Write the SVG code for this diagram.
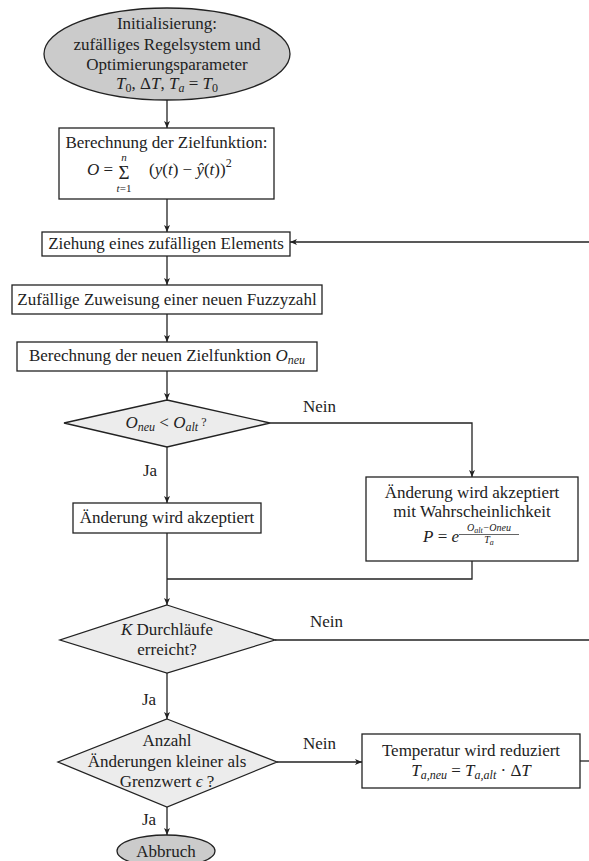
<svg xmlns="http://www.w3.org/2000/svg" width="589" height="861" viewBox="0 0 589 861">
<style>
.t{font-family:"Liberation Serif","Times New Roman",serif;font-size:17px;fill:#222}
.i{font-style:italic}
.s{font-size:12px}
.xs{font-size:10px}
.lbl{font-family:"Liberation Serif","Times New Roman",serif;font-size:17px;fill:#222}
.box{fill:#fff;stroke:#222;stroke-width:1.3}
.dec{fill:#ececec;stroke:#222;stroke-width:1.3}
.term{fill:#cbcbcb;stroke:#222;stroke-width:1.3}
.c{fill:none;stroke:#222;stroke-width:1.3}
</style>
<defs>
<marker id="ah" markerUnits="userSpaceOnUse" markerWidth="8" markerHeight="6" refX="7" refY="3" orient="auto">
<path d="M0,0 L7,3 L0,6 L1.8,3 z" fill="#222"/>
</marker>
</defs>
<rect width="589" height="861" fill="#fff"/>

<g id="init">
<ellipse class="term" cx="167" cy="54" rx="123" ry="46"/>
<text class="t" x="167" y="29" text-anchor="middle">Initialisierung:</text>
<text class="t" x="167" y="50" text-anchor="middle">zufälliges Regelsystem und</text>
<text class="t" x="167" y="70" text-anchor="middle">Optimierungsparameter</text>
<text class="t" x="167" y="89" text-anchor="middle"><tspan class="i">T</tspan><tspan class="s" dy="3">0</tspan><tspan dy="-3">, Δ</tspan><tspan class="i">T</tspan><tspan>, </tspan><tspan class="i">T</tspan><tspan class="s i" dy="3">a</tspan><tspan dy="-3"> = </tspan><tspan class="i">T</tspan><tspan class="s" dy="3">0</tspan></text>
</g>

<g id="zielfunktion">
<rect class="box" x="59" y="128" width="215" height="71"/>
<text class="t" x="166.5" y="148" text-anchor="middle">Berechnung der Zielfunktion:</text>
<text class="t" x="87" y="175"><tspan class="i">O</tspan> =</text>
<text class="t" x="124" y="179" text-anchor="middle" style="font-size:19px">Σ</text>
<text class="t i" x="124" y="161" text-anchor="middle" style="font-size:11px">n</text>
<text class="t" x="124" y="192" text-anchor="middle" style="font-size:11px"><tspan class="i">t</tspan>=1</text>
<text class="t" x="149" y="175">(<tspan class="i">y</tspan>(<tspan class="i">t</tspan>) − <tspan class="i">ŷ</tspan>(<tspan class="i">t</tspan>))<tspan class="s" dy="-8">2</tspan></text>
</g>

<g id="ziehung">
<rect class="box" x="42" y="232" width="248" height="24"/>
<text class="t" x="166" y="249" text-anchor="middle">Ziehung eines zufälligen Elements</text>
</g>

<g id="zuweisung">
<rect class="box" x="12" y="285" width="310" height="29"/>
<text class="t" x="167" y="305" text-anchor="middle">Zufällige Zuweisung einer neuen Fuzzyzahl</text>
</g>

<g id="neuziel">
<rect class="box" x="17" y="342" width="300" height="29"/>
<text class="t" x="167" y="361" text-anchor="middle">Berechnung der neuen Zielfunktion <tspan class="i">O</tspan><tspan class="s i" dy="3">neu</tspan></text>
</g>

<g id="vergleich">
<polygon class="dec" points="167,400 270,423 167,447 64,423"/>
<text class="t" x="166" y="428" text-anchor="middle"><tspan class="i">O</tspan><tspan class="s i" dy="3">neu</tspan><tspan dy="-3"> &lt; </tspan><tspan class="i">O</tspan><tspan class="s i" dy="3">alt</tspan><tspan class="s" dy="-5"> ?</tspan></text>
</g>

<g id="akzeptiert">
<rect class="box" x="73" y="503" width="188" height="30"/>
<text class="t" x="167" y="523" text-anchor="middle">Änderung wird akzeptiert</text>
</g>

<g id="wahrscheinlich">
<rect class="box" x="366" y="477" width="212" height="84"/>
<text class="t" x="472" y="498" text-anchor="middle">Änderung wird akzeptiert</text>
<text class="t" x="472" y="517" text-anchor="middle">mit Wahrscheinlichkeit</text>
<text class="t" x="423" y="542"><tspan class="i">P</tspan> = <tspan class="i">e</tspan></text>
<text class="t xs i" x="489" y="531" text-anchor="middle">O<tspan style="font-size:8px" dy="2">alt</tspan><tspan dy="-2">−Oneu</tspan></text>
<line x1="459" y1="534.5" x2="519" y2="534.5" stroke="#222" stroke-width="0.7"/>
<text class="t xs i" x="489" y="543" text-anchor="middle">T<tspan style="font-size:8px" dy="2">a</tspan></text>
</g>

<g id="durchlaeufe">
<polygon class="dec" points="167,605 275,640 167,673 60,640"/>
<text class="t" x="167" y="635" text-anchor="middle"><tspan class="i">K</tspan> Durchläufe</text>
<text class="t" x="167" y="655" text-anchor="middle">erreicht?</text>
</g>

<g id="grenzwert">
<polygon class="dec" points="167,719 277,762 167,807 58,762"/>
<text class="t" x="167" y="746" text-anchor="middle">Anzahl</text>
<text class="t" x="167" y="767" text-anchor="middle">Änderungen kleiner als</text>
<text class="t" x="167" y="787" text-anchor="middle">Grenzwert <tspan class="i">ϵ</tspan> ?</text>
</g>

<g id="temperatur">
<rect class="box" x="362" y="734" width="218" height="54"/>
<text class="t" x="471" y="756" text-anchor="middle">Temperatur wird reduziert</text>
<text class="t" x="471" y="776" text-anchor="middle"><tspan class="i">T</tspan><tspan class="s i" dy="3">a,neu</tspan><tspan dy="-3"> = </tspan><tspan class="i">T</tspan><tspan class="s i" dy="3">a,alt</tspan><tspan dy="-3"> · Δ</tspan><tspan class="i">T</tspan></text>
</g>

<g id="abbruch">
<ellipse class="term" cx="166" cy="851" rx="49" ry="16"/>
<text class="t" x="166" y="857" text-anchor="middle">Abbruch</text>
</g>

<g id="connectors">
<path class="c" d="M167,100 V128" marker-end="url(#ah)"/>
<path class="c" d="M167,199 V232" marker-end="url(#ah)"/>
<path class="c" d="M589,242 H290" marker-end="url(#ah)"/>
<path class="c" d="M167,256 V285" marker-end="url(#ah)"/>
<path class="c" d="M167,314 V342" marker-end="url(#ah)"/>
<path class="c" d="M167,371 V400" marker-end="url(#ah)"/>
<path class="c" d="M270,423 H472 V477" marker-end="url(#ah)"/>
<path class="c" d="M167,447 V503" marker-end="url(#ah)"/>
<path class="c" d="M167,533 V605" marker-end="url(#ah)"/>
<path class="c" d="M472,561 V579 H167"/>
<path class="c" d="M275,640 H589"/>
<path class="c" d="M167,673 V719" marker-end="url(#ah)"/>
<path class="c" d="M277,762 H362" marker-end="url(#ah)"/>
<path class="c" d="M580,761 H589"/>
<path class="c" d="M167,807 V835" marker-end="url(#ah)"/>
<text class="lbl" x="303" y="412">Nein</text>
<text class="lbl" x="143" y="476">Ja</text>
<text class="lbl" x="310" y="627">Nein</text>
<text class="lbl" x="142" y="705">Ja</text>
<text class="lbl" x="303" y="749">Nein</text>
<text class="lbl" x="142" y="825">Ja</text>
</g>
</svg>
